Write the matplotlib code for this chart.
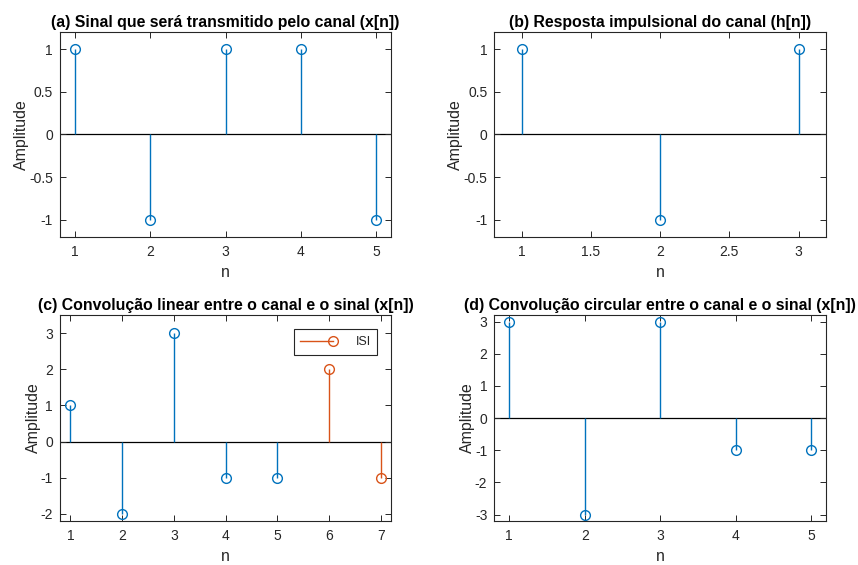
import numpy as np
import matplotlib.pyplot as plt
from matplotlib.lines import Line2D
from matplotlib.legend_handler import HandlerBase

plt.rcParams['font.family'] = ['Liberation Sans', 'DejaVu Sans']
plt.rcParams['axes.unicode_minus'] = False

blue = '#0072BD'
orange = '#D95319'
grey = '#262626'

# data
n_x = [1, 2, 3, 4, 5]
x_sig = [1, -1, 1, 1, -1]
n_h = [1, 2, 3]
h_sig = [1, -1, 1]
n_lin = [1, 2, 3, 4, 5]
y_lin = [1, -2, 3, -1, -1]
n_isi = [6, 7]
y_isi = [2, -1]
n_circ = [1, 2, 3, 4, 5]
y_circ = [3, -3, 3, -1, -1]

fig = plt.figure(figsize=(8.58, 5.65), dpi=100)
axa = fig.add_axes([0.070, 0.581, 0.386, 0.362])
axb = fig.add_axes([0.576, 0.581, 0.387, 0.362])
axc = fig.add_axes([0.070, 0.078, 0.386, 0.364])
axd = fig.add_axes([0.576, 0.078, 0.387, 0.364])


class StemHandler(HandlerBase):
    # matlab style: line with the marker at its right end
    def create_artists(self, legend, orig, xdescent, ydescent, width,
                       height, fontsize, trans):
        y = height / 2 - ydescent
        x0, x1 = -xdescent, -xdescent + width
        line = Line2D([x0, x1], [y, y], color=orange, linewidth=1.0)
        mk = Line2D([x1], [y], marker='o', markerfacecolor='none',
                    markeredgecolor=orange, markersize=7,
                    markeredgewidth=1.0, linestyle='none')
        line.set_transform(trans)
        mk.set_transform(trans)
        return [line, mk]


def stem(ax, n, y, color, label=None):
    cont = ax.stem(n, y, basefmt=' ', label=label)
    ml, sl, bl = cont
    plt.setp(sl, color=color, linewidth=1.0)
    plt.setp(ml, markerfacecolor='none', markeredgecolor=color,
             markersize=7, markeredgewidth=1.0)
    return cont


def style(ax, title, xlim, ylim, xticks, yticks):
    ax.axhline(0, color='k', linewidth=0.9, zorder=1)
    ax.set_xlim(*xlim)
    ax.set_ylim(*ylim)
    ax.set_xticks(xticks)
    ax.set_yticks(yticks)
    ax.set_xticklabels([f'{t:g}' for t in xticks])
    ax.set_yticklabels([f'{t:g}' for t in yticks])
    ax.tick_params(direction='in', top=True, right=True, labelsize=10,
                   colors=grey, length=4, width=0.7, pad=5)
    ax.tick_params(axis='x', pad=6)
    for s in ax.spines.values():
        s.set_color(grey)
        s.set_linewidth(0.8)
    ax.set_title(title, fontsize=11.4, fontweight='bold', color='k', pad=4)
    ax.set_xlabel('n', fontsize=11.4, color=grey, labelpad=4)
    ax.set_ylabel('Amplitude', fontsize=11.4, color=grey, labelpad=0)


stem(axa, n_x, x_sig, blue)
style(axa, '(a) Sinal que será transmitido pelo canal (x[n])',
      (0.8, 5.2), (-1.2, 1.2), [1, 2, 3, 4, 5], [-1, -0.5, 0, 0.5, 1])

stem(axb, n_h, h_sig, blue)
style(axb, '(b) Resposta impulsional do canal (h[n])',
      (0.8, 3.2), (-1.2, 1.2), [1, 1.5, 2, 2.5, 3], [-1, -0.5, 0, 0.5, 1])

stem(axc, n_lin, y_lin, blue)
isi = stem(axc, n_isi, y_isi, orange, label='ISI')
style(axc, '(c) Convolução linear entre o canal e o sinal (x[n])',
      (0.8, 7.2), (-2.2, 3.5), [1, 2, 3, 4, 5, 6, 7], [-2, -1, 0, 1, 2, 3])
leg = axc.legend([isi], ['ISI'], handler_map={type(isi): StemHandler()},
                 loc='upper right', fontsize=9, fancybox=False,
                 edgecolor=grey, framealpha=1, borderaxespad=1.1,
                 handlelength=2.6, handletextpad=1.8, borderpad=0.55)
leg.get_frame().set_linewidth(0.8)
for t in leg.get_texts():
    t.set_color(grey)

stem(axd, n_circ, y_circ, blue)
style(axd, '(d) Convolução circular entre o canal e o sinal (x[n])',
      (0.8, 5.2), (-3.2, 3.2), [1, 2, 3, 4, 5], [-3, -2, -1, 0, 1, 2, 3])

fig.savefig('out.png', dpi=100)
